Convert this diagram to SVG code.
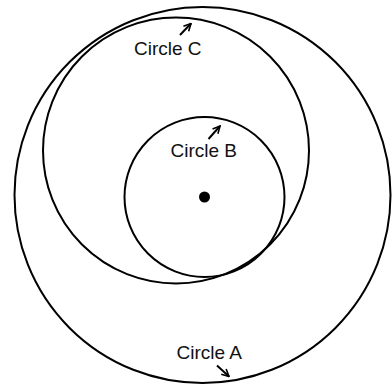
<svg xmlns="http://www.w3.org/2000/svg" width="392" height="386" viewBox="0 0 392 386">
<defs>
<marker id="ah" viewBox="0 0 10 10" refX="9" refY="5" markerWidth="4.5" markerHeight="4.5" orient="auto" markerUnits="strokeWidth">
<path d="M1,1 L9,5 L1,9" fill="none" stroke="#000" stroke-width="1.8"/>
</marker>
</defs>
<style>
.c{fill:none;stroke:#000;stroke-width:2}
.t{font-family:"Liberation Sans",Arial,sans-serif;font-size:19px;fill:#111}
.a{stroke:#000;stroke-width:2;fill:none;marker-end:url(#ah)}
</style>
<rect width="392" height="386" fill="#fff"/>
<g id="circleA">
<circle class="c" cx="202.5" cy="195" r="188"/>
<text class="t" x="176.5" y="359">Circle A</text>
</g>
<g id="circleC">
<circle class="c" cx="176" cy="150.5" r="133"/>
<text class="t" x="134" y="55">Circle C</text>
</g>
<g id="circleB">
<circle class="c" cx="204.5" cy="197" r="80"/>
<text class="t" x="170.5" y="157">Circle B</text>
</g>
<g id="center">
<circle cx="204.5" cy="197" r="5.5" fill="#000"/>
</g>
<g id="connectors">
<line class="a" x1="180" y1="35" x2="191" y2="23.5"/>
<line class="a" x1="208.5" y1="139" x2="220" y2="126"/>
<line class="a" x1="217" y1="365.5" x2="229" y2="376.5"/>
</g>
</svg>
